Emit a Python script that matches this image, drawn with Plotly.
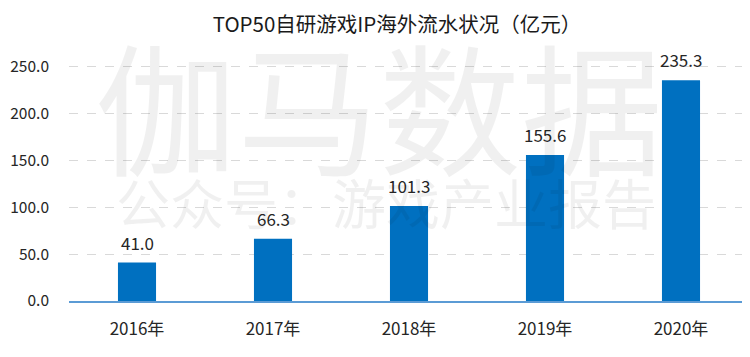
import plotly.graph_objects as go

categories = ["2016年", "2017年", "2018年", "2019年", "2020年"]
values = [41.0, 66.3, 101.3, 155.6, 235.3]
value_labels = ["41.0", "66.3", "101.3", "155.6", "235.3"]
tick_vals = [0, 50, 100, 150, 200, 250]
tick_text = ["0.0", "50.0", "100.0", "150.0", "200.0", "250.0"]
title = "TOP50自研游戏IP海外流水状况（亿元）"
watermark_main = "伽马数据"
watermark_sub = "公众号：游戏产业报告"

FONT = "Noto Sans CJK SC"
TXT = "#262626"
W, H = 750, 357

fig = go.Figure()
fig.add_trace(go.Bar(
    x=categories, y=values,
    marker=dict(color="#0070C0", line=dict(width=0)),
    hoverinfo="x+y",
))

for c, v, t in zip(categories, values, value_labels):
    fig.add_annotation(x=c, y=v, text=t, showarrow=False, yanchor="bottom",
                       yshift=6, font=dict(family=FONT, size=17, color=TXT))

# watermark (very light)
fig.add_annotation(text=watermark_main, x=342 / W, y=1 - 68 / H, xref="paper", yref="paper",
                   xanchor="center", yanchor="middle",
                   showarrow=False, font=dict(family=FONT, size=142, color="rgba(0,0,0,0.06)"))
fig.add_annotation(text=watermark_sub, x=350 / W, y=1 - 212 / H, xref="paper", yref="paper",
                   xanchor="center", yanchor="middle",
                   showarrow=False, font=dict(family=FONT, size=54, color="rgba(0,0,0,0.06)"))

fig.update_layout(
    width=W, height=H,
    margin=dict(l=61, r=9, t=49, b=64, autoexpand=False),
    paper_bgcolor="white", plot_bgcolor="white",
    showlegend=False,
    bargap=0.72,
    title=dict(text=title, x=389 / W, xanchor="center", y=1 - 17 / H, yanchor="middle",
               font=dict(family=FONT, size=20.5, color="#1a1a1a")),
    font=dict(family=FONT),
)
fig.update_xaxes(
    showline=True, linecolor="#5B9BD5", linewidth=1.5,
    ticks="", tickfont=dict(family=FONT, size=17, color=TXT),
    showgrid=False, ticklabelstandoff=12,
)
fig.update_yaxes(
    range=[0, 260], tickvals=tick_vals, ticktext=tick_text,
    tickfont=dict(family=FONT, size=15.5, color=TXT),
    showgrid=True, gridcolor="#D9D9D9", griddash="dash", gridwidth=1,
    zeroline=False, showline=False, ticks="", ticklabelstandoff=19,
)

fig.write_html("out.html")
